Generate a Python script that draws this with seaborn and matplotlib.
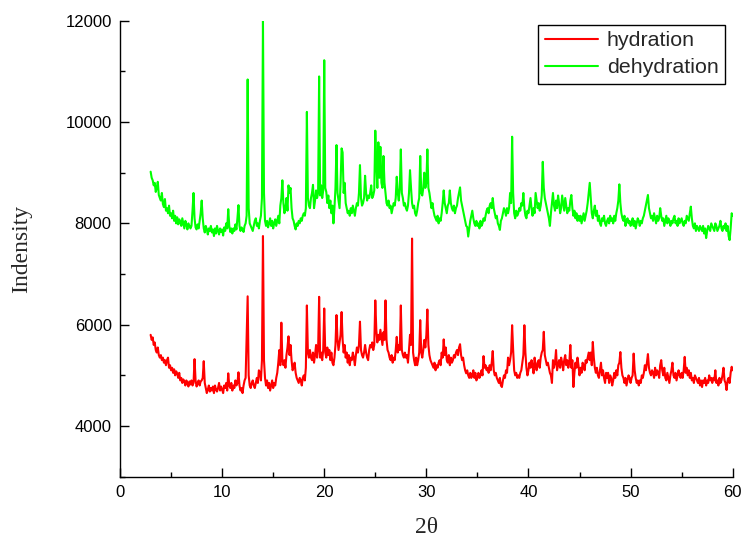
import numpy as np
import pandas as pd
import matplotlib
matplotlib.use('Agg')
import matplotlib.pyplot as plt
import seaborn as sns
from matplotlib.ticker import MultipleLocator

# XRD intensities, one row per degree (0.1 deg step, 3.0 .. 60.0)
hydration = [
    5800, 5700, 5750, 5600, 5650, 5500, 5450, 5550, 5400, 5350,
    5400, 5300, 5350, 5250, 5300, 5200, 5300, 5350, 5150, 5200,
    5100, 5150, 5050, 5120, 5000, 5080, 5040, 4950, 5050, 4900,
    4950, 4850, 4920, 4880, 4800, 4900, 4850, 4780, 4880, 4820,
    4900, 4800, 4850, 5320, 4900, 4780, 4850, 4900, 4800, 4880,
    4900, 4950, 5280, 4850, 4750, 4650, 4720, 4800, 4680, 4750,
    4700, 4780, 4650, 4800, 4720, 4680, 4750, 4850, 4700, 4780,
    4720, 4650, 4800, 4750, 4850, 4700, 5040, 4800, 4750, 4850,
    4700, 4800, 4750, 4900, 4800, 4850, 5060, 4800, 4700, 4750,
    4650, 4800, 4900, 4950, 5750, 6560, 5000, 4800, 4750, 4850,
    4900, 4800, 4750, 4850, 4950, 4850, 5100, 5050, 4900, 5300,
    7750, 5300, 4950, 4800, 4900, 4750, 4850, 4700, 4800, 4900,
    4750, 4850, 4800, 4950, 5050, 5250, 5500, 5200, 6040, 5300,
    5200, 5300, 5150, 5400, 5550, 5770, 5400, 5600, 5300, 5100,
    5150, 5250, 5050, 4950, 4900, 4850, 4950, 4900, 4800, 4950,
    5000, 4900, 5150, 6380, 5450, 5350, 5500, 5350, 5300, 5450,
    5250, 5400, 5600, 5350, 5500, 6550, 5350, 5450, 5300, 5500,
    6320, 5450, 5350, 5550, 5400, 5500, 5300, 5450, 5250, 5200,
    5350, 5600, 6190, 5700, 5500, 5650, 5800, 6250, 5700, 5450,
    5600, 5350, 5450, 5250, 5400, 5200, 5350, 5300, 5450, 5350,
    5200, 5400, 5550, 5450, 5600, 6060, 5500, 5400, 5350, 5450,
    5600, 5450, 5350, 5300, 5500, 5600, 5550, 5650, 5500, 5600,
    6480, 5900, 5650, 5800, 5700, 5900, 5750, 5600, 5850, 5700,
    6480, 5700, 5500, 5450, 5350, 5300, 5400, 5250, 5350, 5300,
    5500, 5760, 5450, 5600, 5500, 6380, 5500, 5400, 5350, 5450,
    5350, 5400, 5250, 5500, 5800, 5600, 7700, 5450, 5300, 5200,
    5350, 5200, 5300, 5450, 6090, 5450, 5350, 5500, 5700, 5550,
    5800, 6300, 5600, 5400, 5300, 5250, 5200, 5150, 5250, 5100,
    5200, 5150, 5250, 5300, 5200, 5450, 5350, 5710, 5400, 5550,
    5300, 5250, 5400, 5200, 5350, 5250, 5300, 5400, 5350, 5450,
    5500, 5400, 5550, 5615, 5400, 5300, 5350, 5200, 5100, 5040,
    5100, 5000, 4950, 5050, 4950, 5000, 5100, 4950, 5050, 4900,
    4950, 5050, 4950, 5000, 5100, 5000, 5380, 5150, 5200, 5100,
    5150, 5050, 5200, 5100, 5250, 5480, 5100, 5000, 5050, 4950,
    4900, 4850, 4950, 4800, 4770, 4900, 5000, 4950, 5100, 5050,
    5350, 5200, 5300, 5450, 5990, 5500, 5100, 5000, 5050, 4950,
    5000, 4950, 5050, 5100, 5250, 5400, 5990, 5450, 5150, 5000,
    5100, 5250, 5150, 5300, 5200, 5040, 5350, 5200, 5100, 5250,
    5300, 5150, 5350, 5450, 5500, 5860, 5400, 5300, 5200, 5250,
    5150, 5050, 5000, 4850, 5300, 5150, 5250, 5500, 5100, 5200,
    5300, 5150, 5350, 5250, 5100, 5300, 5400, 5200, 5300, 5150,
    5250, 5600, 5150, 5300, 4770, 5050, 5250, 5150, 5350, 5200,
    5000, 5150, 5050, 5250, 5200, 5100, 5300, 5250, 5350, 5450,
    5300, 5450, 5200, 5660, 5350, 5150, 5050, 5150, 5000, 4950,
    5100, 5250, 5000, 5100, 4950, 4850, 5050, 4950, 5050, 4850,
    5000, 4950, 4800, 4900, 5050, 4950, 5100, 5000, 5200, 5250,
    5460, 5150, 5000, 4950, 4850, 4950, 4800, 4900, 5000, 4950,
    4850, 4950, 5000, 5430, 5100, 4950, 4850, 4900, 4800, 4900,
    4850, 5000, 4950, 5050, 5200, 5100, 5250, 5420, 5150, 5050,
    5000, 5100, 5050, 4950, 5150, 5000, 5100, 5050, 4950, 5200,
    5300, 5100, 5000, 5150, 4950, 4900, 5050, 4950, 4850, 5000,
    5100, 5250, 5000, 4950, 5050, 4900, 5000, 5100, 5000, 4950,
    5050, 4950, 5100, 5365, 5050, 5150, 5000, 5100, 4950, 5050,
    4900, 4950, 4850, 5000, 4950, 4900, 4850, 4950, 4800, 4900,
    4770, 4900, 4850, 4950, 4800, 4900, 4850, 5000, 4900, 4950,
    4850, 4950, 4900, 5100, 4850, 4900, 4800, 4950, 4850, 4900,
    5000, 5150, 4900, 4850, 4710, 4900, 4950, 4850, 5050, 5170,
    5100,
]

dehydration = [
    9020, 8900, 8850, 8750, 8800, 8620, 8700, 8820, 8560, 8500,
    8450, 8600, 8380, 8320, 8480, 8250, 8300, 8200, 8350, 8150,
    8200, 8100, 8250, 8050, 8150, 8000, 8120, 7980, 8080, 8030,
    7950, 8100, 8000, 7900, 8050, 7980, 7880, 8000, 7950, 7900,
    7950, 8250, 8600, 8100, 7920, 7880, 7980, 7900, 8050, 8200,
    8450, 8100, 7900, 7820, 7950, 7880, 7780, 7900, 7850, 7950,
    7820, 7880, 7750, 7900, 7800, 7950, 7850, 7780, 7900, 7830,
    7880, 7760, 7920, 7850, 8000, 7900, 8280, 7950, 7830, 7900,
    7800, 7900, 7850, 7980, 7880, 8100, 8360, 7950, 7850, 7920,
    7880, 7830, 7950, 8000, 8150, 10840, 8300, 8000, 7950, 7900,
    7850, 7950, 8050, 8100, 7950, 8000, 7900, 8050, 8150, 8500,
    12000, 8600, 8050, 7950, 8050, 7920, 8000, 8100, 7950, 8050,
    7900, 8000, 8080, 7950, 8050, 8150, 8000, 8350, 8500, 8850,
    8400, 8200, 8300, 8500, 8250, 8750, 8600, 8700, 8300, 8100,
    8050, 7950, 7880, 8000, 7950, 8050, 8000, 8100, 8050, 8150,
    8200, 8150, 8300, 10200, 8500, 8350, 8300, 8500, 8600, 8760,
    8300, 8450, 8650, 8500, 8600, 10900, 8550, 8750, 8500, 8650,
    11220, 8700, 8620, 8400, 8550, 8300, 8450, 8200, 8350, 8000,
    8300, 8700, 9545, 8600, 8450, 8300, 8800, 9480, 9400, 8600,
    8800, 8400, 8300, 8200, 8250, 8150, 8300, 8200, 8350, 8250,
    8150, 8300, 8400, 8350, 8600, 9150, 8500, 8350, 8400, 8500,
    8940, 8600, 8450, 8550, 8500, 8600, 8750, 8500, 8550, 8650,
    9830, 9200, 8700, 9600, 8900, 9510, 8800, 8700, 9330, 8800,
    8600, 8400, 8350, 8450, 8300, 8350, 8200, 8300, 8400, 8350,
    8500, 8920, 8600, 8450, 8700, 9460, 8600, 8500, 8350, 8400,
    8300, 8250, 8350, 8600, 9050, 8700, 8400, 8300, 8350, 8200,
    8150, 8250, 8400, 8500, 9330, 8600, 8550, 8700, 9000, 8700,
    8800, 9460, 8700, 8600, 8450, 8300, 8400, 8250, 8150, 8100,
    8050, 8150, 8000, 8100, 8050, 8200, 8400, 8650, 8400, 8300,
    8200, 8350, 8400, 8650, 8400, 8300, 8250, 8350, 8200, 8300,
    8350, 8500, 8600, 8710, 8450, 8350, 8250, 8150, 8050, 7950,
    7930, 7740, 7900, 8050, 8150, 8250, 8100, 8000, 7950, 8050,
    7950, 8000, 7900, 8050, 7950, 8000, 8100, 8050, 8150, 8250,
    8300, 8200, 8350, 8400, 8300, 8500, 8300, 8200, 8100, 8150,
    8000, 7950, 7870, 8050, 8100, 8200, 8300, 8250, 8150, 8300,
    8200, 8300, 8600, 8400, 9710, 8600, 8200, 8100, 8250, 8150,
    8200, 8300, 8250, 8400, 8350, 8600, 8300, 8150, 8100, 8250,
    8200, 8350, 8500, 8300, 8150, 8300, 8200, 8600, 8450, 8300,
    8400, 8250, 8350, 8550, 9215, 8700, 8500, 8400, 8300, 8200,
    8100, 7950, 8200, 8400, 8600, 8350, 8250, 8450, 8300, 8550,
    8400, 8200, 8300, 8550, 8400, 8250, 8500, 8350, 8200, 8300,
    8250, 8450, 8560, 8300, 8150, 8250, 8100, 8200, 8050, 8150,
    8050, 8150, 8000, 8100, 8200, 8050, 8150, 8250, 8400, 8600,
    8800, 8500, 8200, 8100, 8250, 8350, 8150, 8250, 8050, 8150,
    8000, 7950, 8100, 8050, 8150, 8000, 7950, 8050, 8100, 8000,
    8150, 8050, 8100, 8000, 8150, 8050, 8200, 8300, 8450, 8770,
    8400, 8200, 8100, 8050, 8150, 7950, 8050, 8100, 8000, 8050,
    7950, 8000, 8100, 7950, 8050, 7900, 8000, 8100, 8050, 7950,
    8050, 8000, 8100, 8150, 8250, 8350, 8450, 8560, 8300, 8200,
    8100, 8150, 8050, 8200, 8100, 8000, 8150, 8050, 8100, 8300,
    8150, 8050, 8100, 7950, 8050, 8150, 8000, 8100, 8050, 7950,
    8050, 8000, 8100, 8150, 8000, 8050, 7950, 8100, 8000, 8050,
    8100, 8000, 7950, 8050, 8000, 8150, 8100, 8050, 8200, 8330,
    8100, 7950, 7900, 8000, 7850, 7950, 7900, 7850, 7950, 7900,
    7850, 7950, 7800, 7900, 7710, 7850, 7950, 7900, 7850, 8000,
    7950, 7900, 7850, 8000, 7950, 7850, 7900, 7950, 8050, 7900,
    7850, 7950, 7900, 8000, 7850, 7950, 7750, 7670, 7900, 8200,
    8150,
]

two_theta = np.round(3.0 + 0.1 * np.arange(len(hydration)), 1)

df = pd.DataFrame({'two_theta': two_theta,
                   'hydration': hydration,
                   'dehydration': dehydration})

sns.set_style('ticks')
plt.rcParams['font.family'] = ['Liberation Sans', 'DejaVu Sans']

fig = plt.figure(figsize=(7.44, 5.39), dpi=100)
ax = fig.add_axes([0.1613, 0.1156, 0.8235, 0.846])

sns.lineplot(data=df, x='two_theta', y='hydration', color='#ff0000',
             linewidth=1.5, label='hydration', ax=ax)
sns.lineplot(data=df, x='two_theta', y='dehydration', color='#00ff00',
             linewidth=1.5, label='dehydration', ax=ax)

ax.set_xlim(0, 60)
ax.set_ylim(3000, 12000)
ax.xaxis.set_major_locator(MultipleLocator(10))
ax.xaxis.set_minor_locator(MultipleLocator(5))
ax.set_yticks([4000, 6000, 8000, 10000, 12000])
ax.yaxis.set_minor_locator(MultipleLocator(1000))
ax.tick_params(which='major', direction='in', length=6.5, width=1,
               labelsize=12, pad=6, color='black', labelcolor='black')
ax.tick_params(which='minor', direction='in', length=3.5, width=1,
               color='black')
sns.despine(ax=ax)
for s in ['left', 'bottom']:
    ax.spines[s].set_color('black')
    ax.spines[s].set_linewidth(1.0)

ax.set_xlabel('2θ', family=['Liberation Serif', 'DejaVu Serif'],
              fontsize=17, labelpad=12)
ax.set_ylabel('Indensity', family=['Liberation Serif', 'DejaVu Serif'],
              fontsize=17, labelpad=24)

leg = ax.legend(loc='upper right', bbox_to_anchor=(0.9874, 0.9906),
                borderaxespad=0, fontsize=15.4, frameon=True, fancybox=False,
                edgecolor='black', framealpha=1, handlelength=2.5,
                handletextpad=0.4, borderpad=0.3, labelspacing=0.37)
leg.get_frame().set_linewidth(1.0)

fig.savefig('out.png', dpi=100)
